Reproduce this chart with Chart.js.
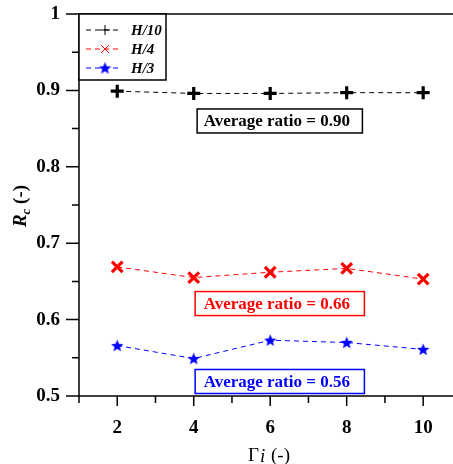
<!DOCTYPE html>
<html>
<head>
<meta charset="utf-8">
<script src="https://cdn.jsdelivr.net/npm/chart.js@4/dist/chart.umd.min.js"></script>
<style>
html,body{margin:0;padding:0;background:#fff;}
#wrap{width:453px;height:464px;position:relative;}
</style>
</head>
<body>
<div id="wrap"><canvas id="c" width="453" height="464"></canvas></div>
<script>
const xValues = [2, 4, 6, 8, 10];
const seriesLabels = ['H/10', 'H/4', 'H/3'];
const h10Values = [0.899, 0.896, 0.896, 0.897, 0.897];
const h4Values = [0.669, 0.655, 0.662, 0.667, 0.653];
const h3Values = [0.566, 0.549, 0.573, 0.570, 0.561];
const averageLabels = ['Average ratio = 0.90', 'Average ratio = 0.66', 'Average ratio = 0.56'];
const yTickValues = [0.5, 0.6, 0.7, 0.8, 0.9, 1];
const yMinorTicks = [0.55, 0.65, 0.75, 0.85, 0.95];
const xTickValues = [2, 4, 6, 8, 10];
const xMinorTicks = [1, 3, 5, 7, 9];
const xTitle = ['Γ', 'i', ' (-)'];
const yTitle = ['R', 'c', ' (-)'];

const SERIF = '"Liberation Serif", "Times New Roman", serif';

function makeStar(color, size) {
  const c = document.createElement('canvas');
  c.width = size; c.height = size;
  const g = c.getContext('2d');
  g.fillStyle = color;
  g.beginPath();
  const cx = size / 2, cy = size / 2 + 0.5;
  for (let i = 0; i < 10; i++) {
    const r = i % 2 ? size * 0.22 : size / 2;
    const a = -Math.PI / 2 + i * Math.PI / 5;
    const px = cx + r * Math.cos(a), py = cy + r * Math.sin(a);
    if (i === 0) g.moveTo(px, py); else g.lineTo(px, py);
  }
  g.closePath();
  g.fill();
  return c;
}
const starImg = makeStar('#0000ff', 13);

function pts(vals) { return xValues.map((x, i) => ({ x: x, y: vals[i] })); }

const datasets = [
  { label: seriesLabels[0], data: pts(h10Values), borderColor: '#000000', backgroundColor: '#000000',
    pointStyle: 'cross', pointRadius: 6.5, pointBorderWidth: 3.2 },
  { label: seriesLabels[1], data: pts(h4Values), borderColor: '#ff0000', backgroundColor: '#ff0000',
    pointStyle: 'crossRot', pointRadius: 7.5, pointBorderWidth: 3.2 },
  { label: seriesLabels[2], data: pts(h3Values), borderColor: '#0000ff', backgroundColor: '#0000ff',
    pointStyle: starImg, pointRadius: 6, pointBorderWidth: 1 }
].map(d => Object.assign(d, { borderWidth: 1, borderDash: [5, 4], fill: false, tension: 0, pointHoverRadius: d.pointRadius }));

const boxColors = ['#000000', '#ff0000', '#0000ff'];
const boxPos = [ {x: 6.25, y: 0.86, pad: 19}, {x: 6.25, y: 0.621, pad: 23}, {x: 6.25, y: 0.519, pad: 23} ];

const decor = {
  id: 'decor',
  afterDraw(chart) {
    const ctx = chart.ctx;
    const xs = chart.scales.x, ys = chart.scales.y;
    const a = chart.chartArea;
    ctx.save();
    ctx.strokeStyle = '#000'; ctx.lineWidth = 1.5; ctx.setLineDash([]);
    ctx.beginPath();
    ctx.moveTo(a.left, a.top); ctx.lineTo(a.left, a.bottom);
    ctx.moveTo(a.left - 13, a.bottom); ctx.lineTo(a.right, a.bottom);
    ctx.moveTo(a.left - 13, a.top); ctx.lineTo(a.right, a.top);
    yTickValues.forEach(v => { const y = ys.getPixelForValue(v); ctx.moveTo(a.left - 13, y); ctx.lineTo(a.left, y); });
    yMinorTicks.forEach(v => { const y = ys.getPixelForValue(v); ctx.moveTo(a.left - 7, y); ctx.lineTo(a.left, y); });
    xTickValues.forEach(v => { const x = xs.getPixelForValue(v); ctx.moveTo(x, a.bottom); ctx.lineTo(x, a.bottom + 10); });
    xMinorTicks.forEach(v => { const x = xs.getPixelForValue(v); ctx.moveTo(x, a.bottom); ctx.lineTo(x, a.bottom + 7); });
    ctx.stroke();

    ctx.font = 'bold 17px ' + SERIF;
    ctx.textBaseline = 'middle'; ctx.textAlign = 'center';
    averageLabels.forEach((t, i) => {
      const cx = xs.getPixelForValue(boxPos[i].x), cy = ys.getPixelForValue(boxPos[i].y);
      const w = ctx.measureText(t).width + boxPos[i].pad, h = 24;
      const left = cx - w / 2, top = cy - h / 2;
      ctx.fillStyle = '#fff';
      ctx.fillRect(left, top, w, h);
      ctx.strokeStyle = boxColors[i]; ctx.lineWidth = 1.5;
      ctx.strokeRect(left, top, w, h);
      ctx.fillStyle = boxColors[i];
      ctx.fillText(t, cx - 3, cy + 1);
    });

    const lx = a.left, ly = a.top, lw = 87, lh = 66;
    ctx.fillStyle = '#fff'; ctx.fillRect(lx, ly, lw, lh);
    ctx.strokeStyle = '#000'; ctx.lineWidth = 1.5; ctx.strokeRect(lx, ly, lw, lh);
    const rows = [ly + 16, ly + 35, ly + 54];
    chart.data.datasets.forEach((d, i) => {
      const y = rows[i];
      ctx.strokeStyle = d.borderColor; ctx.lineWidth = 1;
      ctx.setLineDash([5, 4]);
      ctx.beginPath(); ctx.moveTo(lx + 7, y); ctx.lineTo(lx + 39, y); ctx.stroke();
      ctx.setLineDash([]);
      ctx.strokeStyle = d.borderColor; ctx.fillStyle = d.backgroundColor;
      Chart.helpers.drawPoint(ctx, { pointStyle: d.pointStyle, radius: i === 0 ? 5 : (i === 1 ? 5.5 : 4.5), borderWidth: i === 2 ? 1 : 2.8, rotation: 0 }, lx + 26, y);
      ctx.fillStyle = '#000';
      ctx.font = 'italic bold 15px ' + SERIF;
      ctx.textBaseline = 'middle'; ctx.textAlign = 'left';
      ctx.fillText(d.label, lx + 52, y + 1);
    });

    ctx.fillStyle = '#000'; ctx.textBaseline = 'alphabetic'; ctx.textAlign = 'left';
    const f1 = '19px ' + SERIF, f2 = 'italic 19px ' + SERIF;
    ctx.font = f1; const w1 = ctx.measureText(xTitle[0]).width;
    ctx.font = f2; const w2 = ctx.measureText(xTitle[1]).width + 2;
    ctx.font = f1; const w3 = ctx.measureText(xTitle[2]).width;
    let sx = 269 - (w1 + w2 + w3) / 2; const by = 461;
    ctx.font = f1; ctx.fillText(xTitle[0], sx, by);
    ctx.font = f2; ctx.fillText(xTitle[1], sx + w1 + 1, by + 1);
    ctx.font = f1; ctx.fillText(xTitle[2], sx + w1 + w2, by);

    ctx.save();
    ctx.translate(26, 206); ctx.rotate(-Math.PI / 2);
    const g1 = 'italic bold 19px ' + SERIF, g2 = 'italic bold 13px ' + SERIF, g3 = 'bold 19px ' + SERIF;
    ctx.font = g1; const v1 = ctx.measureText(yTitle[0]).width;
    ctx.font = g2; const v2 = ctx.measureText(yTitle[1]).width;
    ctx.font = g3; const v3 = ctx.measureText(yTitle[2]).width;
    let sy = -(v1 + v2 + v3) / 2;
    ctx.font = g1; ctx.fillText(yTitle[0], sy, 0);
    ctx.font = g2; ctx.fillText(yTitle[1], sy + v1, 4);
    ctx.font = g3; ctx.fillText(yTitle[2], sy + v1 + v2, 0);
    ctx.restore();

    ctx.restore();
  }
};

new Chart(document.getElementById('c'), {
  type: 'line',
  data: { datasets: datasets },
  options: {
    responsive: false,
    animation: false,
    layout: { autoPadding: false, padding: { top: 14, right: 0, left: 0, bottom: 0 } },
    plugins: { legend: { display: false }, tooltip: { enabled: false } },
    scales: {
      x: {
        type: 'linear', min: 1, max: 10.78,
        afterBuildTicks: s => { s.ticks = xTickValues.map(v => ({ value: v })); },
        afterFit: s => { s.height = 68; s.paddingLeft = 0; s.paddingRight = 0; s.paddingTop = 0; s.paddingBottom = 0; },
        grid: { display: false, drawTicks: false },
        border: { display: false },
        ticks: { padding: 21, color: '#000', font: { family: SERIF, size: 19, weight: 'bold' }, maxRotation: 0, callback: v => String(v) }
      },
      y: {
        type: 'linear', min: 0.5, max: 1,
        afterBuildTicks: s => { s.ticks = yTickValues.map(v => ({ value: v })); },
        afterFit: s => { s.width = 79; s.paddingLeft = 0; s.paddingRight = 0; s.paddingTop = 0; s.paddingBottom = 0; },
        grid: { display: false, drawTicks: false },
        border: { display: false },
        ticks: { padding: 19, color: '#000', font: { family: SERIF, size: 19, weight: 'bold' }, callback: v => (v === 1 ? '1' : v.toFixed(1)) }
      }
    }
  },
  plugins: [decor]
});
</script>
</body>
</html>
